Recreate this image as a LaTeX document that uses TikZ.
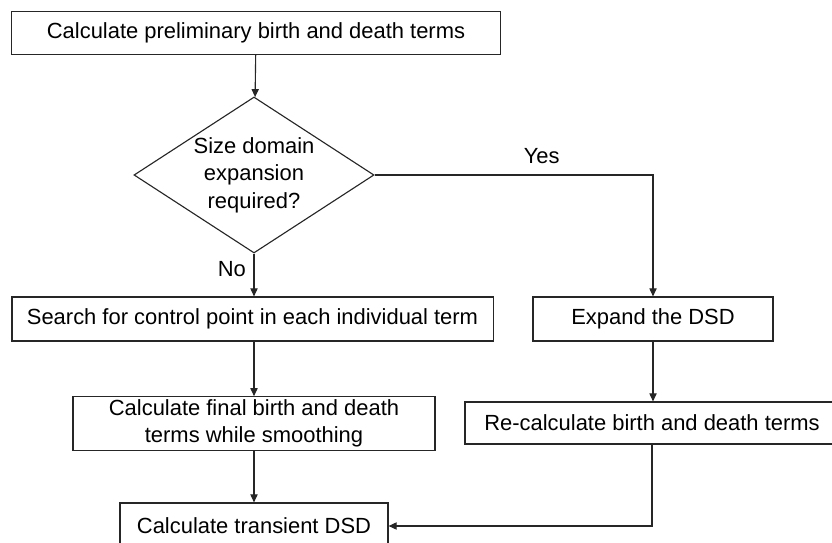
\documentclass[tikz,border=0pt]{standalone}
\usepackage{fontspec}
\setmainfont{Liberation Sans}
\usepackage{tikz}
\usetikzlibrary{arrows.meta,positioning,shapes.geometric}

\begin{document}
\begin{tikzpicture}[
  x=0.025cm, y=-0.025cm,
  font=\fontsize{15.6}{19.5}\selectfont,
  proc/.style={rectangle, draw=black!85, line width=0.8pt, align=center,
               inner sep=2pt},
  decision/.style={diamond, aspect=1.54, draw=black!85, line width=0.8pt, align=center,
                   inner sep=0pt, minimum width=6cm, minimum height=3.9cm},
  arr/.style={-{Triangle[length=2mm, width=1.8mm]}, line width=0.8pt, draw=black!85},
  lbl/.style={font=\fontsize{15.6}{19.5}\selectfont}
]
\useasboundingbox (0,0) rectangle (832,543);

% Main column
\node[proc, minimum width=12.2cm, minimum height=1.075cm] (prelim) at (256,33)
   {Calculate preliminary birth and death terms};
\node[decision] (expq) at (254,175) {Size domain\\expansion\\required?};
\node[proc, minimum width=12.025cm, minimum height=1.1cm] (search) at (252.5,319)
   {Search for control point in each individual term};
\node[proc, minimum width=9.05cm, minimum height=1.325cm] (final) at (254,423.5)
   {Calculate final birth and death\\terms while smoothing};
\node[proc, minimum width=6.7cm, minimum height=1.15cm] (trans) at (254,526)
   {Calculate transient DSD};

% Expansion branch
\node[proc, minimum width=6cm, minimum height=1.1cm] (expand) at (653,319)
   {Expand the DSD};
\node[proc, minimum width=9.35cm, minimum height=1.05cm] (recalc) at (652,423)
   {Re-calculate birth and death terms};

% Arrows
\draw[arr] (prelim) -- (expq);
\draw[arr] (expq.south) -- node[lbl, left, pos=0.35, xshift=-2pt]{No} (search.north -| expq.south);
\draw[arr] (expq.east) -| node[lbl, above, pos=0.3, yshift=4pt]{Yes} (expand.north);
\draw[arr] (search.south -| final.north) -- (final);
\draw[arr] (expand) -- (expand |- recalc.north);
\draw[arr] (final) -- (trans);
\draw[arr] (recalc.south) |- (trans.east);

\end{tikzpicture}
\end{document}
